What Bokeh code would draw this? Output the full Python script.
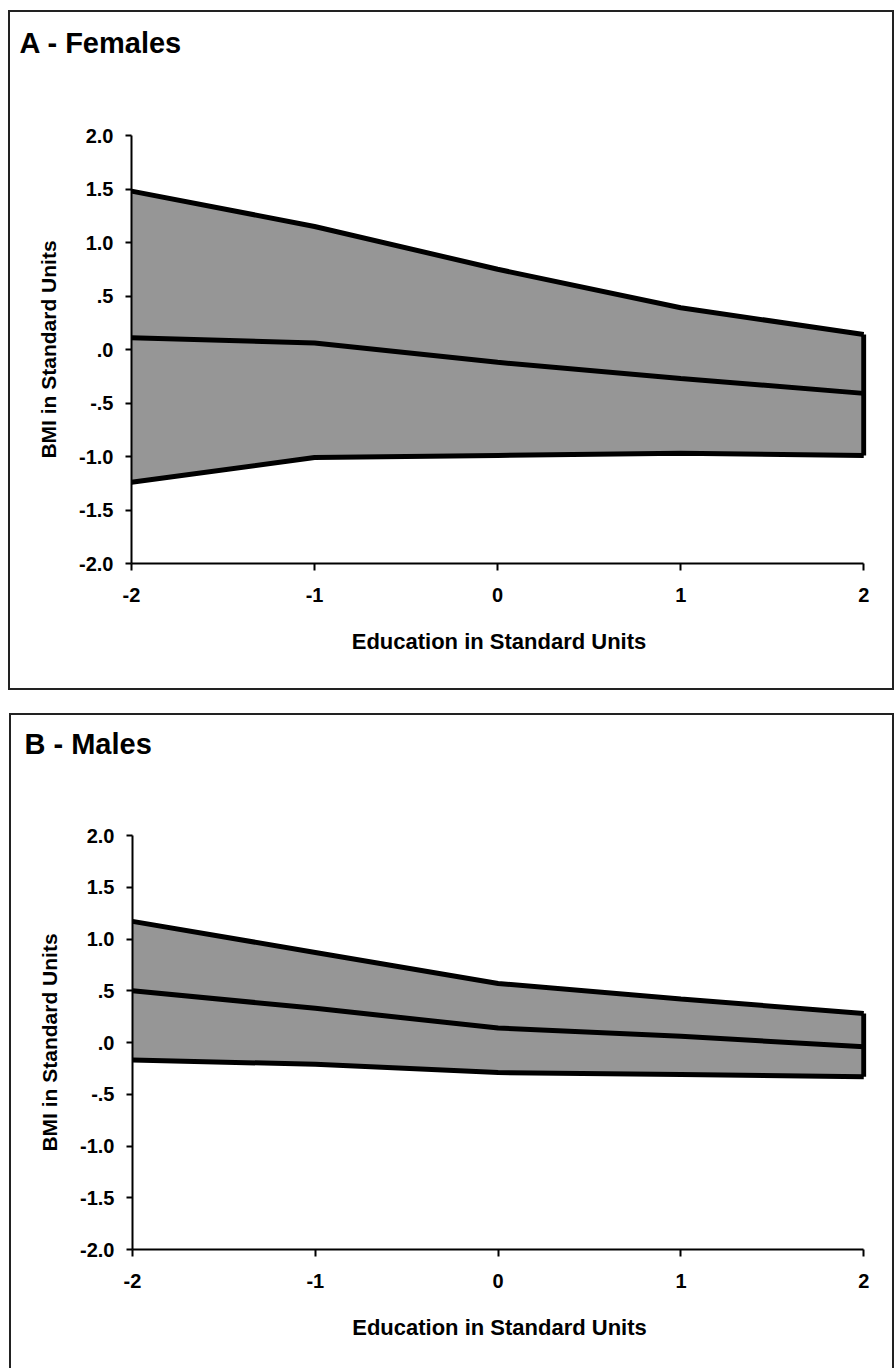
from bokeh.plotting import figure
from bokeh.layouts import column
from bokeh.models import Range1d, FixedTicker, ColumnDataSource, Title, LinearAxis
from bokeh.embed import file_html
from bokeh.resources import INLINE

# ---- data ----
edu = [-2, -1, 0, 1, 2]
x_ticks = [-2, -1, 0, 1, 2]
x_tick_labels = ["-2", "-1", "0", "1", "2"]
y_ticks = [-2.0, -1.5, -1.0, -0.5, 0.0, 0.5, 1.0, 1.5, 2.0]
y_tick_labels = ["-2.0", "-1.5", "-1.0", "-.5", ".0", ".5", "1.0", "1.5", "2.0"]

fem_upper = [1.48, 1.15, 0.75, 0.39, 0.14]
fem_mid = [0.11, 0.06, -0.12, -0.27, -0.41]
fem_lower = [-1.24, -1.01, -0.99, -0.97, -0.99]

male_upper = [1.17, 0.87, 0.57, 0.42, 0.28]
male_mid = [0.50, 0.33, 0.14, 0.06, -0.04]
male_lower = [-0.17, -0.21, -0.29, -0.31, -0.33]

titles = ["A -  Females", "B - Males"]
x_label = "Education in Standard Units"
y_label = "BMI in Standard Units"

FONT = "Liberation Sans"
FILL = "#969696"


def make_panel(title, upper, mid, lower, width, height, b_left, b_right, b_top, b_bottom,
               title_dx, title_gap, margin, border_css):
    p = figure(width=width, height=height, output_backend="svg", toolbar_location=None,
               x_range=Range1d(-2, 2.015), y_range=Range1d(-2, 2),
               min_border_left=b_left, min_border_right=b_right,
               min_border_top=b_top, min_border_bottom=b_bottom,
               background_fill_color="white", border_fill_color="white")
    p.outline_line_color = None
    p.grid.visible = False
    p.margin = margin
    p.styles = border_css

    xa = p.below[0]
    ya = p.left[0]

    # invisible spacer between the plot area and the panel title
    spacer = LinearAxis(ticker=FixedTicker(ticks=[0]), axis_line_color=None,
                        major_tick_line_color="white", minor_tick_line_color=None,
                        major_tick_out=title_gap, major_tick_in=0,
                        minor_tick_out=0, minor_tick_in=0, major_label_standoff=0,
                        major_label_text_color=None, major_label_text_font_size="0px",
                        major_label_overrides={0: ""})
    p.add_layout(spacer, "above")
    p.add_layout(Title(text=title, align="left", offset=title_dx, text_font=FONT,
                       text_font_style="bold", text_font_size="29px", text_color="black"),
                 "above")

    src = ColumnDataSource(dict(x=edu, up=upper, mid=mid, lo=lower))
    p.varea(x="x", y1="lo", y2="up", source=src, fill_color=FILL)
    for col in ["up", "mid", "lo"]:
        p.line(x="x", y=col, source=src, line_color="black", line_width=5)
    # closing edge at the last education value
    p.line(x=[edu[-1], edu[-1]], y=[lower[-1], upper[-1]], line_color="black", line_width=5)

    for ax in (xa, ya):
        ax.axis_line_color = "black"
        ax.axis_line_width = 2
        ax.major_tick_line_color = "black"
        ax.major_tick_line_width = 2
        ax.minor_tick_line_color = None
        ax.major_tick_in = 0
        ax.major_label_text_font = FONT
        ax.major_label_text_font_style = "bold"
        ax.major_label_text_font_size = "20px"
        ax.major_label_text_color = "black"
        ax.axis_label_text_font = FONT
        ax.axis_label_text_font_style = "bold"
        ax.axis_label_text_color = "black"

    xa.ticker = FixedTicker(ticks=x_ticks)
    xa.major_label_overrides = {t: l for t, l in zip(x_ticks, x_tick_labels)}
    xa.bounds = (-2, 2)
    xa.major_tick_out = 7
    xa.major_label_standoff = 17
    xa.axis_label = x_label
    xa.axis_label_text_font_size = "22px"
    xa.axis_label_standoff = 24

    ya.ticker = FixedTicker(ticks=y_ticks)
    ya.major_label_overrides = {t: l for t, l in zip(y_ticks, y_tick_labels)}
    ya.major_tick_out = 6
    ya.major_label_standoff = 12
    ya.axis_label = y_label
    ya.axis_label_text_font_size = "21px"
    ya.axis_label_standoff = 16
    return p


pA = make_panel(titles[0], fem_upper, fem_mid, fem_lower,
                width=886, height=680, b_left=121, b_right=29, b_top=123, b_bottom=129,
                title_dx=-112, title_gap=72, margin=(10, 0, 0, 8),
                border_css={"border": "2px solid #222", "box-sizing": "border-box"})
pB = make_panel(titles[1], male_upper, male_mid, male_lower,
                width=885, height=655, b_left=119, b_right=30, b_top=120, b_bottom=121,
                title_dx=-108, title_gap=71, margin=(23, 0, 0, 9),
                border_css={"border": "2px solid #222", "border-bottom": "none",
                            "box-sizing": "border-box"})

layout = column(pA, pB)
open("out.html", "w").write(file_html(layout, INLINE))
